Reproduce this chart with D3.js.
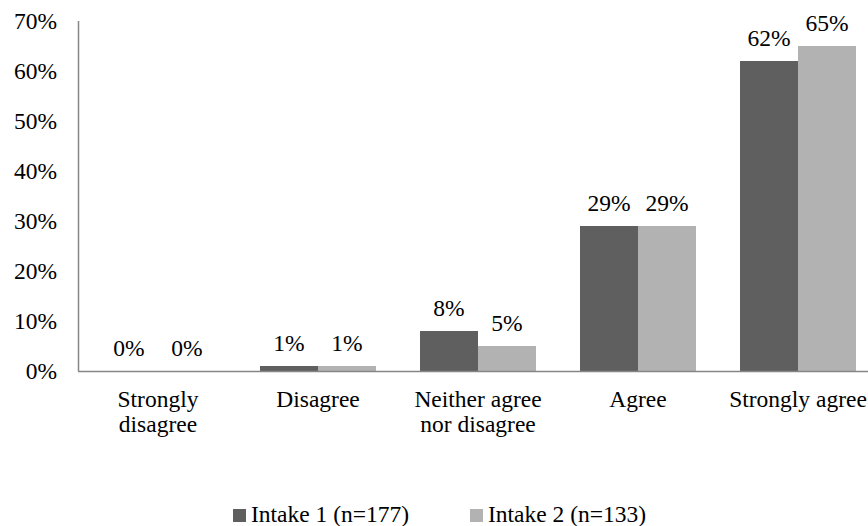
<!DOCTYPE html>
<html>
<head>
<meta charset="utf-8">
<script src="https://cdn.jsdelivr.net/npm/d3@7"></script>
<style>
  body { margin: 0; background: #fff; }
</style>
</head>
<body>
<div id="chart"></div>
<script>
const categories = [["Strongly", "disagree"], ["Disagree"], ["Neither agree", "nor disagree"], ["Agree"], ["Strongly agree"]];
const seriesNames = ["Intake 1 (n=177)", "Intake 2 (n=133)"];
const intake1 = [0, 1, 8, 29, 62];
const intake2 = [0, 1, 5, 29, 65];
const yTicks = [0, 10, 20, 30, 40, 50, 60, 70];

const width = 868, height = 526;
const colors = ["#5f5f5f", "#b2b2b2"];
const fontSize = 23.5;
const font = "'Liberation Serif', 'Times New Roman', Tinos, 'DejaVu Serif', serif";

const svg = d3.select("#chart").append("svg")
    .attr("width", width)
    .attr("height", height)
    .attr("font-family", font)
    .attr("font-size", fontSize);

const x = d3.scaleBand()
    .domain(d3.range(categories.length))
    .range([78, 878])
    .paddingInner(0.275)
    .paddingOuter(0.1375);

const xSub = d3.scaleBand()
    .domain([0, 1])
    .range([0, x.bandwidth()]);

const y = d3.scaleLinear()
    .domain([0, 70])
    .range([371, 21]);

// y axis labels (no ticks)
svg.append("g")
    .selectAll("text")
    .data(yTicks)
    .enter().append("text")
    .attr("x", 57)
    .attr("y", d => y(d))
    .attr("dy", "0.35em")
    .attr("text-anchor", "end")
    .text(d => d + "%");

const data = [intake1, intake2];

data.forEach((vals, s) => {
    svg.append("g")
        .selectAll("rect")
        .data(vals)
        .enter().append("rect")
        .attr("x", (d, i) => x(i) + xSub(s))
        .attr("y", d => y(d))
        .attr("width", xSub.bandwidth())
        .attr("height", d => y(0) - y(d))
        .attr("fill", colors[s]);

    svg.append("g")
        .selectAll("text")
        .data(vals)
        .enter().append("text")
        .attr("x", (d, i) => x(i) + xSub(s) + xSub.bandwidth() / 2)
        .attr("y", d => y(d) - 15)
        .attr("text-anchor", "middle")
        .text(d => d + "%");
});

// axes lines
svg.append("line")
    .attr("x1", 78.5).attr("x2", 78.5)
    .attr("y1", y(70)).attr("y2", y(0))
    .attr("stroke", "#868686").attr("stroke-width", 1.5);
svg.append("line")
    .attr("x1", 78).attr("x2", width)
    .attr("y1", y(0) + 0.5).attr("y2", y(0) + 0.5)
    .attr("stroke", "#868686").attr("stroke-width", 1.5);

// category labels
const catLabels = svg.append("g")
    .selectAll("text")
    .data(categories)
    .enter().append("text")
    .attr("x", (d, i) => x(i) + x.bandwidth() / 2)
    .attr("y", 407)
    .attr("text-anchor", "middle");
catLabels.selectAll("tspan")
    .data(d => d)
    .enter().append("tspan")
    .attr("x", function () { return d3.select(this.parentNode).attr("x"); })
    .attr("dy", (d, i) => i === 0 ? 0 : 25)
    .text(d => d);

// legend
const legendX = [233, 470];
const legend = svg.append("g");
seriesNames.forEach((name, s) => {
    legend.append("rect")
        .attr("x", legendX[s]).attr("y", 509)
        .attr("width", 13).attr("height", 13)
        .attr("fill", colors[s]);
    legend.append("text")
        .attr("x", legendX[s] + 18).attr("y", 522)
        .text(name);
});
</script>
</body>
</html>
